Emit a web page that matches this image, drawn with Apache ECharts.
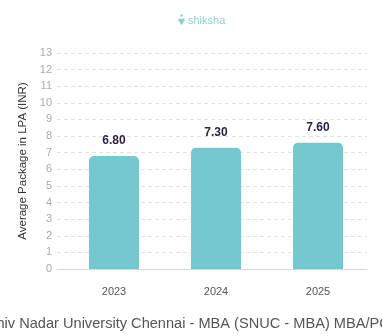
<!DOCTYPE html>
<html>
<head>
<meta charset="utf-8">
<script src="https://cdn.jsdelivr.net/npm/echarts@6/dist/echarts.min.js"></script>
<style>
  html, body { margin: 0; padding: 0; background: #fff; }
  #chart { width: 382px; height: 336px; }
</style>
</head>
<body>
<div id="chart"></div>
<script>
// Average placement package by year
const years = ['2023', '2024', '2025'];
const avgPackage = [6.80, 7.30, 7.60];
const yTicks = [0, 1, 2, 3, 4, 5, 6, 7, 8, 9, 10, 11, 12, 13];
const chartTitle = 'Shiv Nadar University Chennai - MBA (SNUC - MBA) MBA/PGDM';
const yAxisTitle = 'Average Package in LPA (INR)';

const FONT = '"Liberation Sans", Arial, sans-serif';
const yMin = yTicks[0];
const yMax = yTicks[yTicks.length - 1];

const chart = echarts.init(document.getElementById('chart'));
chart.setOption({
  animation: false,
  backgroundColor: '#ffffff',
  graphic: [
    {
      // caption under the chart, wider than the canvas
      type: 'text',
      x: 200,
      y: 324,
      style: {
        text: chartTitle,
        fill: '#555555',
        font: '14.6px ' + FONT,
        align: 'center',
        verticalAlign: 'middle'
      }
    },
    {
      type: 'polygon',
      shape: { points: [[178, 20], [180, 18], [181.5, 19.5], [183, 18], [185, 20], [181.5, 25]] },
      style: { fill: '#8fd0d6' }
    },
    {
      type: 'circle',
      shape: { cx: 181.5, cy: 15.5, r: 1.2 },
      style: { fill: '#8fd0d6' }
    },
    {
      type: 'text',
      x: 188,
      y: 15,
      style: { text: 'shiksha', fill: '#8fd0d6', font: '11px ' + FONT }
    }
  ],
  grid: [
    { left: 57, right: 15, top: 53, bottom: 67 },
    { left: 63, right: 13, top: 53, bottom: 67 }
  ],
  xAxis: [
    {
      gridIndex: 0, type: 'category', data: years,
      axisLine: { show: true, lineStyle: { color: '#d8d8d8', width: 1 } },
      axisTick: { show: false }, axisLabel: { show: false }
    },
    {
      gridIndex: 1, type: 'category', data: years,
      axisLine: { show: false }, axisTick: { show: false },
      axisLabel: { color: '#555555', fontFamily: FONT, fontSize: 11, margin: 17 }
    }
  ],
  yAxis: [
    {
      gridIndex: 0, type: 'value', min: yMin, max: yMax, interval: 1,
      name: yAxisTitle, nameLocation: 'middle', nameGap: 21,
      nameTextStyle: { color: '#333333', fontFamily: FONT, fontSize: 11.5 },
      axisLine: { show: false }, axisTick: { show: false },
      axisLabel: { color: '#aaaaaa', fontFamily: FONT, fontSize: 11, margin: 5 },
      splitLine: { lineStyle: { color: '#e2e2e2', type: [4, 3], width: 1 } }
    },
    {
      gridIndex: 1, type: 'value', min: yMin, max: yMax, interval: 1, show: false,
      splitLine: { show: false }
    }
  ],
  series: [{
    type: 'bar',
    xAxisIndex: 1,
    yAxisIndex: 1,
    data: avgPackage,
    barWidth: 50,
    itemStyle: { color: '#74c9d1', borderRadius: [5, 5, 0, 0] },
    label: {
      show: true,
      position: 'top',
      distance: 9,
      formatter: p => p.value.toFixed(2),
      color: '#2d2240',
      fontFamily: FONT,
      fontSize: 12,
      fontWeight: 'bold'
    }
  }]
});
</script>
</body>
</html>
